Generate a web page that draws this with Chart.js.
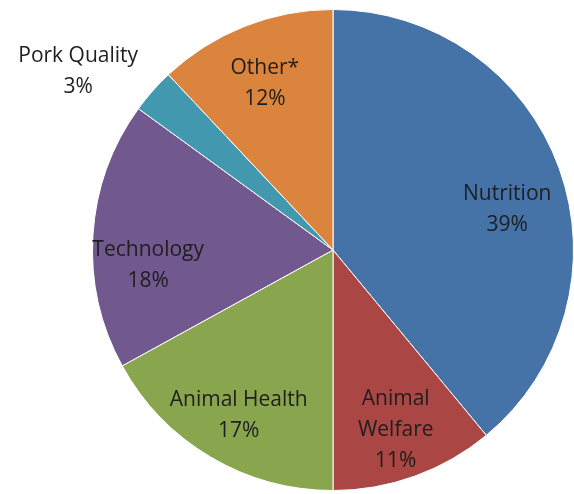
<!DOCTYPE html>
<html>
<head>
<meta charset="utf-8">
<script src="https://cdn.jsdelivr.net/npm/chart.js@4.4.1/dist/chart.umd.min.js"></script>
<style>
  html, body { margin: 0; padding: 0; background: #fff; }
  #wrap { width: 574px; height: 494px; }
</style>
</head>
<body>
<div id="wrap"><canvas id="pieChart"></canvas></div>
<script>
// Data
const labels = ["Nutrition", "Animal Welfare", "Animal Health", "Technology", "Pork Quality", "Other*"];
const values = [39, 11, 17, 18, 3, 12];
// how each label is broken into lines
const labelLines = [["Nutrition"], ["Animal", "Welfare"], ["Animal Health"], ["Technology"], ["Pork Quality"], ["Other*"]];
const colors = ["#4572A7", "#AA4643", "#89A54E", "#71588F", "#4198AF", "#DB843D"];

const FONT = '21px "Open Sans", sans-serif';
const LINE_H = 31;

// Draw data labels: inside the slice, or outside for tiny slices
const sliceLabels = {
  id: "sliceLabels",
  afterDatasetsDraw(chart) {
    const ctx = chart.ctx;
    const meta = chart.getDatasetMeta(0);
    const total = values.reduce((a, b) => a + b, 0);
    ctx.save();
    ctx.font = FONT;
    ctx.fillStyle = "#1e1e1e";
    ctx.textAlign = "center";
    ctx.textBaseline = "middle";
    meta.data.forEach((arc, i) => {
      const { x, y, startAngle, endAngle, outerRadius } = arc.getProps(
        ["x", "y", "startAngle", "endAngle", "outerRadius"], true);
      const mid = (startAngle + endAngle) / 2;
      const share = values[i] / total;
      const outside = share < 0.05;
      const f = outside ? 1.2 : 0.77;
      const lines = labelLines[i].concat([Math.round(share * 100) + "%"]);
      let lx = x + Math.cos(mid) * outerRadius * f;
      let ly = y + Math.sin(mid) * outerRadius * f + 5;
      // labels near the horizontal sit a little lower
      ly += 22 * Math.pow(Math.abs(Math.cos(mid)), 4);
      if (outside) {
        const w = ctx.measureText(lines[0]).width;
        lx += Math.sign(Math.cos(mid)) * w * 0.32;
      }
      const top = ly - (lines.length - 1) * LINE_H / 2;
      lines.forEach((t, k) => ctx.fillText(t, lx, top + k * LINE_H));
    });
    ctx.restore();
  },
};

new Chart(document.getElementById("pieChart"), {
  type: "pie",
  data: {
    labels: labels,
    datasets: [
      {
        data: values,
        backgroundColor: colors,
        borderColor: "#ffffff",
        borderWidth: 1,
      },
    ],
  },
  options: {
    responsive: true,
    maintainAspectRatio: false,
    animation: false,
    layout: { padding: { left: 92, right: 0, top: 9, bottom: 3 } },
    plugins: {
      legend: { display: false },
      tooltip: { enabled: false },
    },
  },
  plugins: [sliceLabels],
});
</script>
</body>
</html>
